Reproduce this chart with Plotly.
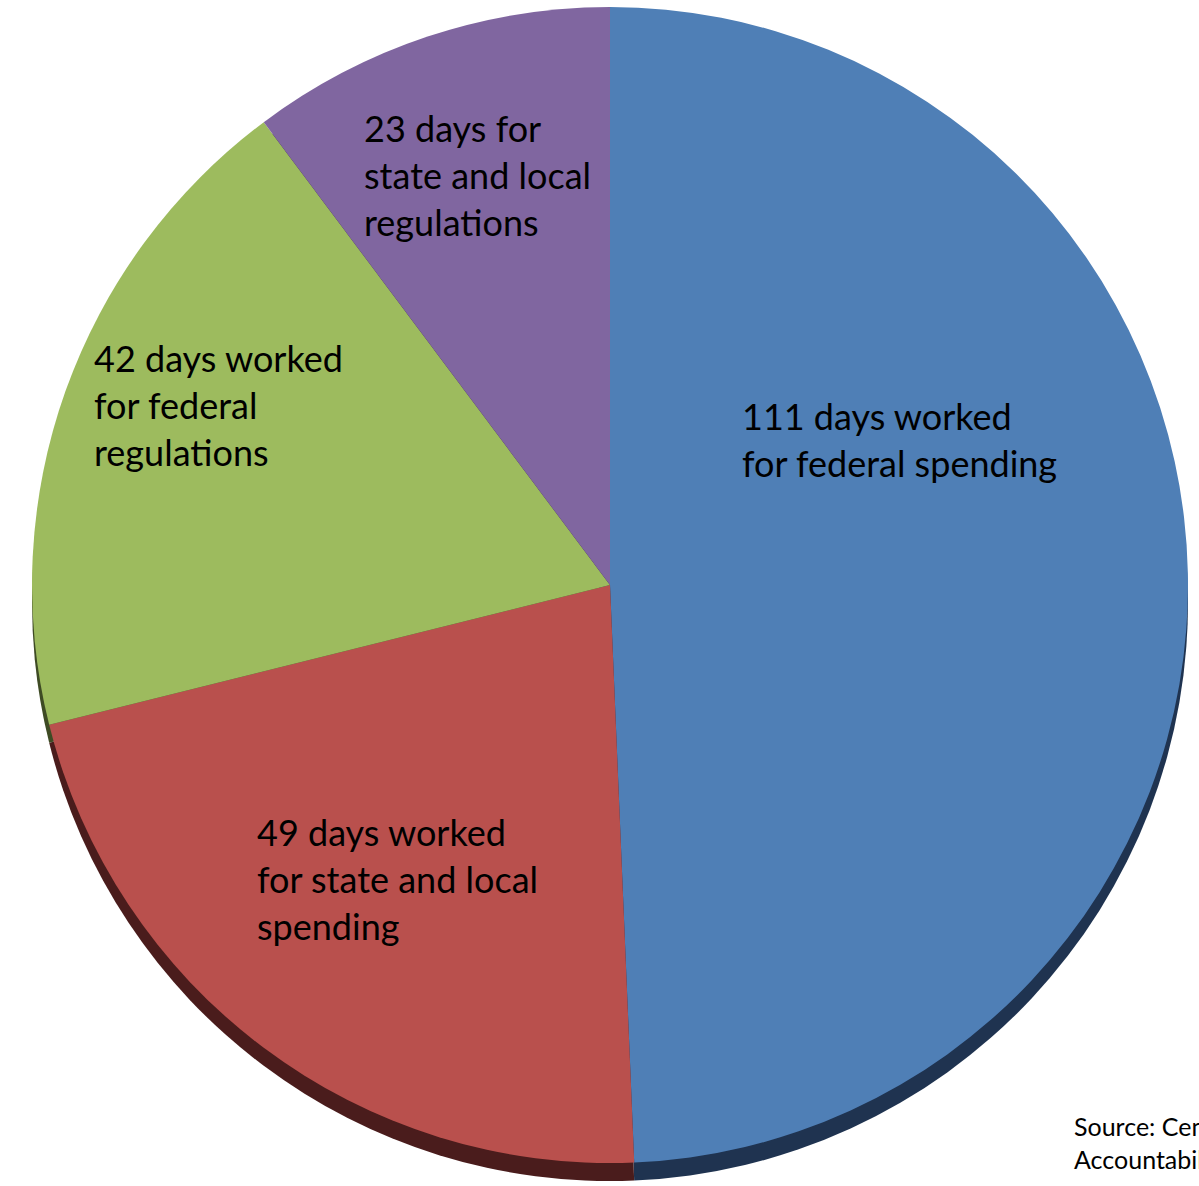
import plotly.graph_objects as go

categories = [
    "111 days worked<br>for federal spending",
    "49 days worked<br>for state and local<br>spending",
    "42 days worked<br>for federal<br>regulations",
    "23 days for<br>state and local<br>regulations",
]
days = [111, 49, 42, 23]
face_colors = ["#4F7FB6", "#B9504D", "#9DBB5E", "#8066A0"]
rim_colors = ["#1F3350", "#4A1C1C", "#3E4B24", "#332840"]
source_text = "Source: Center for Fiscal<br>Accountability"

W, H = 1199, 1186
cx, cy, r = 610, 585, 578
rim = 18

def dom(cx, cy, r):
    return dict(x=[(cx - r) / W, (cx + r) / W],
                y=[(H - cy - r) / H, (H - cy + r) / H])

fig = go.Figure()
fig.add_trace(go.Pie(
    values=days, labels=categories, sort=False, direction="clockwise", rotation=0,
    marker=dict(colors=rim_colors, line=dict(width=0)),
    textinfo="none", hoverinfo="skip", domain=dom(cx, cy + rim, r), showlegend=False,
))
fig.add_trace(go.Pie(
    values=days, labels=categories, sort=False, direction="clockwise", rotation=0,
    marker=dict(colors=face_colors, line=dict(width=0)),
    textinfo="none", domain=dom(cx, cy, r), showlegend=False,
))

label_pos = [(740, 439), (255, 879), (92, 405), (362, 175)]
font = dict(family="Lato, Carlito, Calibri, sans-serif", size=36, color="#000000")
for text, (px, py) in zip(categories, label_pos):
    fig.add_annotation(text=text, x=px / W, y=1 - py / H, xref="paper", yref="paper",
                       xanchor="left", yanchor="middle", align="left",
                       showarrow=False, font=font)

fig.add_annotation(text=source_text, x=1072 / W, y=1 - 1142 / H, xref="paper", yref="paper",
                   xanchor="left", yanchor="middle", align="left", showarrow=False,
                   font=dict(family="Lato, Carlito, Calibri, sans-serif", size=25, color="#000000"))

fig.update_layout(width=W, height=H, margin=dict(l=0, r=0, t=0, b=0),
                  paper_bgcolor="white", plot_bgcolor="white")
fig.write_html("out.html", config={"displayModeBar": False},
               post_script="document.body.style.margin='0';document.body.style.overflow='hidden';")
